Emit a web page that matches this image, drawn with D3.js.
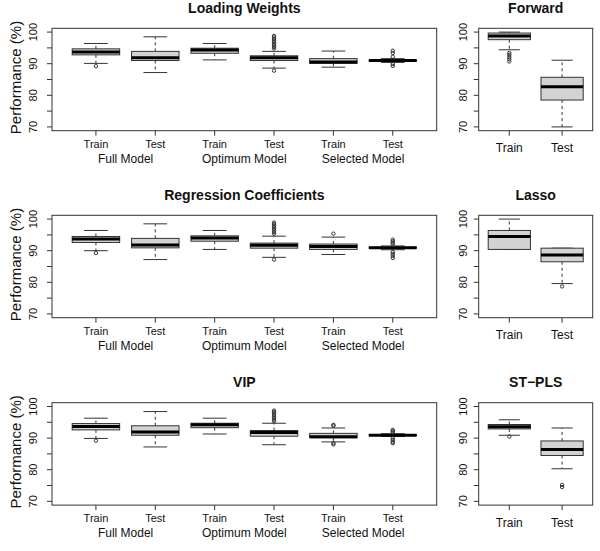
<!DOCTYPE html>
<html>
<head>
<meta charset="utf-8">
<script src="https://cdn.jsdelivr.net/npm/d3@7"></script>
<style>
  html, body { margin: 0; padding: 0; background: #fff; }
  svg { display: block; }
  text { font-family: "Liberation Sans", Arial, Helvetica, sans-serif; fill: #111; }
</style>
</head>
<body>
<svg id="chart" width="600" height="551"></svg>
<script>
// ---------------- DATA ----------------
const mainCategories = ["Train", "Test", "Train", "Test", "Train", "Test"];
const mainGroups = ["Full Model", "Optimum Model", "Selected Model"];
const sideCategories = ["Train", "Test"];
const yTicks = [70, 75, 80, 85, 90, 95, 100];
const yTickLabels = [70, 80, 90, 100];
const yLimits = [70, 100];
const panelTitles = ["Loading Weights", "Forward", "Regression Coefficients", "Lasso", "VIP", "ST\u2212PLS"];

// five-number summaries: [lower whisker, Q1, median, Q3, upper whisker]
const loadingWeightsStats = [
  [90.1, 92.8, 93.7, 94.7, 96.4],
  [87.2, 91.0, 91.9, 93.9, 98.5],
  [91.2, 93.3, 94.3, 94.9, 96.4],
  [88.6, 91.0, 91.9, 92.5, 93.9],
  [88.9, 90.1, 90.5, 91.6, 94.0],
  [90.4, 90.8, 91.0, 91.2, 91.6]
];
const loadingWeightsOutliers = [
  [89.2], [], [],
  [87.8, 94.8, 95.3, 95.8, 96.3, 96.8, 97.3, 97.8, 98.3, 98.8],
  [],
  [89.3, 89.9, 92.2, 93.4, 94.1]
];
const forwardStats = [
  [94.4, 97.6, 98.8, 99.7, 100.0],
  [70.0, 78.5, 82.7, 85.7, 91.1]
];
const forwardOutliers = [[90.7, 91.4, 92.1, 92.8, 93.4], []];

const regCoefStats = [
  [90.0, 92.6, 93.7, 94.5, 96.4],
  [87.2, 90.9, 91.8, 93.9, 98.5],
  [90.4, 93.0, 94.0, 94.7, 96.4],
  [87.9, 90.8, 91.7, 92.4, 94.6],
  [88.8, 90.4, 91.3, 92.1, 94.3],
  [90.3, 90.8, 90.9, 91.1, 91.5]
];
const regCoefOutliers = [
  [89.3], [], [],
  [87.2, 95.4, 95.9, 96.4, 96.9, 97.4, 97.9, 98.4, 98.9],
  [95.4],
  [87.7, 88.4, 89.0, 89.6, 92.0, 92.5, 93.0, 93.5]
];
const lassoStats = [
  [90.4, 90.4, 94.5, 96.4, 100.0],
  [79.6, 86.5, 88.6, 90.8, 90.8]
];
const lassoOutliers = [[], [78.7]];

const vipStats = [
  [89.9, 92.6, 93.7, 94.6, 96.3],
  [87.2, 90.9, 91.9, 93.9, 98.4],
  [91.3, 93.3, 94.2, 94.7, 96.3],
  [87.9, 90.6, 91.8, 92.4, 94.7],
  [88.8, 90.1, 90.4, 91.5, 93.2],
  [90.5, 90.8, 90.9, 91.1, 91.4]
];
const vipOutliers = [
  [89.2], [], [],
  [95.3, 95.8, 96.3, 96.8, 97.3, 97.8, 98.3, 98.7],
  [88.0, 88.4, 93.9, 94.2],
  [88.4, 88.8, 89.4, 89.9, 91.8, 92.2, 92.6]
];
const stplsStats = [
  [90.9, 92.9, 93.6, 94.3, 95.8],
  [80.3, 84.5, 86.4, 89.1, 93.2]
];
const stplsOutliers = [[90.5], [74.5, 75.2]];

// ---------------- LAYOUT ----------------
const svg = d3.select("#chart");
const rowTops = [28.3, 215.3, 402.7];
const plotH = 102.4;
const mainX = [52, 436.7];
const sideX = [478.7, 592.7];

const panels = [
  { title: panelTitles[0], stats: loadingWeightsStats, outliers: loadingWeightsOutliers, cats: mainCategories, groups: mainGroups, row: 0, xr: mainX, main: true },
  { title: panelTitles[1], stats: forwardStats, outliers: forwardOutliers, cats: sideCategories, row: 0, xr: sideX, main: false },
  { title: panelTitles[2], stats: regCoefStats, outliers: regCoefOutliers, cats: mainCategories, groups: mainGroups, row: 1, xr: mainX, main: true },
  { title: panelTitles[3], stats: lassoStats, outliers: lassoOutliers, cats: sideCategories, row: 1, xr: sideX, main: false },
  { title: panelTitles[4], stats: vipStats, outliers: vipOutliers, cats: mainCategories, groups: mainGroups, row: 2, xr: mainX, main: true },
  { title: panelTitles[5], stats: stplsStats, outliers: stplsOutliers, cats: sideCategories, row: 2, xr: sideX, main: false }
];

const boxStroke = "#333";
const boxFill = "#d3d3d3";

panels.forEach(p => {
  const top = rowTops[p.row], bottom = top + plotH;
  const n = p.cats.length;
  const ext = (n) * 0.04;
  const x = d3.scaleLinear().domain([0.5 - ext, n + 0.5 + ext]).range(p.xr);
  const yExt = (yLimits[1] - yLimits[0]) * 0.04;
  const y = d3.scaleLinear().domain([yLimits[0] - yExt, yLimits[1] + yExt]).range([bottom, top]);
  const g = svg.append("g");
  const unit = x(2) - x(1);
  const bw = 0.8 * unit, cw = 0.4 * unit;

  // boxes
  p.stats.forEach((s, i) => {
    const cx = x(i + 1);
    const [lo, q1, md, q3, hi] = s;
    const bg = g.append("g");
    // whiskers
    bg.append("line").attr("x1", cx).attr("x2", cx).attr("y1", y(q3)).attr("y2", y(hi))
      .attr("stroke", boxStroke).attr("stroke-dasharray", "3,3");
    bg.append("line").attr("x1", cx).attr("x2", cx).attr("y1", y(q1)).attr("y2", y(lo))
      .attr("stroke", boxStroke).attr("stroke-dasharray", "3,3");
    // caps
    bg.append("line").attr("x1", cx - cw / 2).attr("x2", cx + cw / 2).attr("y1", y(hi)).attr("y2", y(hi)).attr("stroke", boxStroke);
    bg.append("line").attr("x1", cx - cw / 2).attr("x2", cx + cw / 2).attr("y1", y(lo)).attr("y2", y(lo)).attr("stroke", boxStroke);
    // box
    bg.append("rect").attr("x", cx - bw / 2).attr("width", bw)
      .attr("y", y(q3)).attr("height", Math.max(0.5, y(q1) - y(q3)))
      .attr("fill", boxFill).attr("stroke", boxStroke).attr("stroke-width", 1);
    // median
    bg.append("line").attr("x1", cx - bw / 2).attr("x2", cx + bw / 2).attr("y1", y(md)).attr("y2", y(md))
      .attr("stroke", "#000").attr("stroke-width", 3);
    // outliers
    p.outliers[i].forEach(v => {
      bg.append("circle").attr("cx", cx).attr("cy", y(v)).attr("r", 1.7)
        .attr("fill", "none").attr("stroke", boxStroke).attr("stroke-width", 1);
    });
  });

  // frame
  g.append("rect").attr("x", p.xr[0]).attr("y", top).attr("width", p.xr[1] - p.xr[0]).attr("height", plotH)
    .attr("fill", "none").attr("stroke", boxStroke).attr("stroke-width", 1);

  // y axis ticks
  yTicks.forEach(t => {
    g.append("line").attr("x1", p.xr[0]).attr("x2", p.xr[0] - 5).attr("y1", y(t)).attr("y2", y(t)).attr("stroke", boxStroke);
  });
  const labX = p.main ? p.xr[0] - 14.7 : p.xr[0] - 12.2;
  yTickLabels.forEach(t => {
    g.append("text").attr("transform", `translate(${labX},${y(t)}) rotate(-90)`)
      .attr("text-anchor", "middle").attr("font-size", 11).text(t);
  });

  // x ticks and labels
  p.cats.forEach((c, i) => {
    const cx = x(i + 1);
    g.append("line").attr("x1", cx).attr("x2", cx).attr("y1", bottom).attr("y2", bottom + 5).attr("stroke", boxStroke);
    g.append("text").attr("x", cx).attr("y", p.main ? bottom + 16.8 : bottom + 21.5)
      .attr("text-anchor", "middle").attr("font-size", p.main ? 11 : 12).text(c);
  });
  if (p.groups) {
    p.groups.forEach((gr, k) => {
      const cx = (x(2 * k + 1) + x(2 * k + 2)) / 2;
      g.append("text").attr("x", cx).attr("y", bottom + 32.2)
        .attr("text-anchor", "middle").attr("font-size", 12).text(gr);
    });
  }

  // title
  g.append("text").attr("x", (p.xr[0] + p.xr[1]) / 2).attr("y", top - 15.8)
    .attr("text-anchor", "middle").attr("font-size", 14).attr("font-weight", "bold").text(p.title);

  // y label for main panels
  if (p.main) {
    g.append("text").attr("transform", `translate(21,${(top + bottom) / 2 - 2}) rotate(-90)`)
      .attr("text-anchor", "middle").attr("font-size", 15).text("Performance (%)");
  }
});
</script>
</body>
</html>
